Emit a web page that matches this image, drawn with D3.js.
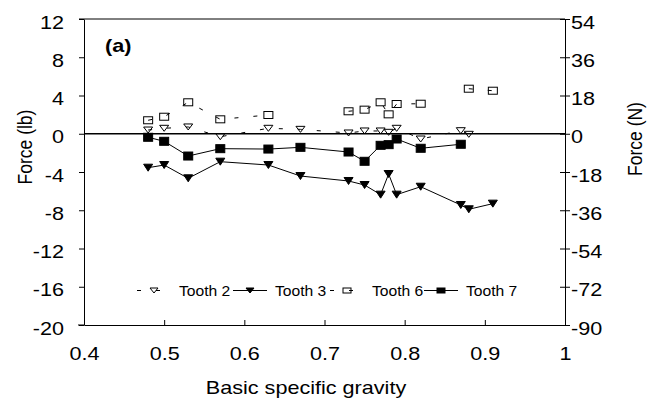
<!doctype html>
<html lang="en">
<head>
<meta charset="utf-8">
<title>Force vs basic specific gravity</title>
<style>
  body { margin: 0; background: #fff; }
  svg { font-family: "Liberation Sans", Arial, sans-serif; }
</style>
</head>
<body>
<script src="https://cdn.jsdelivr.net/npm/d3@7"></script>
<svg width="652" height="405"></svg>
<script>

// values (force in lb)
var t2x = [0.48, 0.50, 0.53, 0.57, 0.63, 0.67, 0.73, 0.75, 0.77, 0.78, 0.79, 0.82, 0.87, 0.88];
var t2y = [0.39, 0.57, 0.71, -0.31, 0.57, 0.46, 0.08, 0.29, 0.29, 0.15, 0.57, -0.55, 0.32, -0.06];

var t3x = [0.48, 0.50, 0.53, 0.57, 0.63, 0.67, 0.73, 0.75, 0.77, 0.78, 0.79, 0.82, 0.87, 0.88, 0.91];
var t3y = [-3.55, -3.27, -4.66, -2.92, -3.27, -4.42, -4.94, -5.36, -6.37, -4.21, -6.37, -5.54, -7.45, -7.90, -7.31];

// null = missing value, the line breaks there
var t6x = [0.48, 0.50, 0.53, 0.57, 0.63, 0.67, 0.73, 0.75, 0.77, 0.78, 0.79, 0.82, 0.87, 0.88, 0.91];
var t6y = [1.41, 1.78, 3.29, 1.51, 1.96, null, 2.35, 2.52, 3.29, 2.03, 3.11, 3.14, null, 4.71, 4.50];

var t7x = [0.48, 0.50, 0.53, 0.57, 0.63, 0.67, 0.73, 0.75, 0.77, 0.78, 0.79, 0.82, 0.87];
var t7y = [-0.37, -0.79, -2.33, -1.56, -1.60, -1.42, -1.91, -2.88, -1.21, -1.14, -0.55, -1.52, -1.10];

var xTicks = [0.4, 0.5, 0.6, 0.7, 0.8, 0.9, 1];
var yTicks = [-20, -16, -12, -8, -4, 0, 4, 8, 12];
var nTicks = [-90, -72, -54, -36, -18, 0, 18, 36, 54];

var seriesNames = ["Tooth 2", "Tooth 3", "Tooth 6", "Tooth 7"];

// the picture is stretched sideways, so text gets the same stretch
var SX = 1.2;

var svg = d3.select("svg"),
    pLeft = 84, pRight = 565, pTop = 19, pBottom = 325;

var x = d3.scaleLinear().domain([0.4, 1]).range([pLeft, pRight]);
var y = d3.scaleLinear().domain([-20, 12]).range([pBottom, pTop]);
var yN = d3.scaleLinear().domain([-90, 54]).range([pBottom, pTop]);

// plain hyphen for negatives, like the original
var fmt = function(d) { return String(d); };

function zip(xs, ys) {
  return xs.map(function(v, i) { return {x: v, y: ys[i]}; });
}

var series = [
  {name: seriesNames[0], data: zip(t2x, t2y), dash: "4,15", marker: "triOpen"},
  {name: seriesNames[1], data: zip(t3x, t3y), dash: null, marker: "triFill"},
  {name: seriesNames[2], data: zip(t6x, t6y), dash: "4,15", marker: "sqOpen"},
  {name: seriesNames[3], data: zip(t7x, t7y), dash: null, marker: "sqFill"}
];

// top border
svg.append("line")
  .attr("x1", pLeft - 5).attr("x2", pRight)
  .attr("y1", pTop).attr("y2", pTop)
  .attr("stroke", "#000");

// left axis
svg.append("g")
  .attr("transform", "translate(" + pLeft + ",0)")
  .call(d3.axisLeft(y).tickValues(yTicks).tickSize(5).tickSizeOuter(0).tickFormat(fmt))
  .call(function(g) {
    g.selectAll(".tick text")
      .attr("x", -20 / SX).attr("dy", "0.5em")
      .attr("transform", "scale(" + SX + ",1)")
      .style("font-size", "18px").attr("fill", "#000");
  });

// right axis (newtons)
svg.append("g")
  .attr("transform", "translate(" + pRight + ",0)")
  .call(d3.axisRight(yN).tickValues(nTicks).tickSize(5).tickSizeOuter(0).tickFormat(fmt))
  .call(function(g) {
    g.selectAll(".tick line").attr("x1", -5);
    g.selectAll(".tick text")
      .attr("x", 6 / SX).attr("dy", "0.5em")
      .attr("transform", "scale(" + SX + ",1)")
      .style("font-size", "18px").attr("fill", "#000");
  });

// bottom axis
svg.append("g")
  .attr("transform", "translate(0," + pBottom + ")")
  .call(d3.axisBottom(x).tickValues(xTicks).tickSize(-5).tickSizeOuter(0).tickFormat(fmt))
  .call(function(g) {
    g.selectAll(".tick text")
      .attr("y", 35).attr("dy", 0)
      .attr("transform", "scale(" + SX + ",1)")
      .style("font-size", "18px").attr("fill", "#000");
  });
svg.append("line")
  .attr("x1", pLeft - 6).attr("x2", pLeft)
  .attr("y1", pBottom).attr("y2", pBottom)
  .attr("stroke", "#000");

svg.selectAll(".domain").attr("stroke", "#000");
svg.selectAll(".tick line").attr("stroke", "#000");

// zero line
svg.append("line")
  .attr("x1", x(0.4)).attr("x2", x(1))
  .attr("y1", y(0)).attr("y2", y(0))
  .attr("stroke", "#000").attr("stroke-width", 1.6);

// markers
function marker(g, type, cx, cy, w, h) {
  if (type == "triOpen" || type == "triFill") {
    g.append("path")
      .attr("d", "M" + (cx - w / 2) + "," + (cy - h / 2) + "L" + (cx + w / 2) + "," + (cy - h / 2) + "L" + cx + "," + (cy + h / 2) + "Z")
      .attr("fill", type == "triFill" ? "#000" : "none")
      .attr("stroke", "#000");
  } else {
    g.append("rect")
      .attr("x", cx - w / 2).attr("y", cy - h / 2)
      .attr("width", w).attr("height", h)
      .attr("fill", type == "sqFill" ? "#000" : "none")
      .attr("stroke", "#000");
  }
}

var line = d3.line()
  .defined(function(d) { return d.y != null; })
  .x(function(d) { return x(d.x); })
  .y(function(d) { return y(d.y); });

var plot = svg.append("g");

series.forEach(function(s) {
  plot.append("path")
    .datum(s.data)
    .attr("d", line)
    .attr("fill", "none")
    .attr("stroke", "#000")
    .attr("stroke-width", 1)
    .attr("stroke-dasharray", s.dash);
});

series.forEach(function(s) {
  s.data.filter(function(d) { return d.y != null; }).forEach(function(d) {
    var w = 9, h = 7;
    if (s.marker == "sqFill") h = 8;
    if (s.marker == "triOpen") h = 6;
    marker(plot, s.marker, x(d.x), y(d.y), w, h);
  });
});

// legend
var legX = [137, 233, 330, 424], legY = 290.5;
series.forEach(function(s, i) {
  var lx = legX[i];
  svg.append("line")
    .attr("x1", lx).attr("x2", lx + 34)
    .attr("y1", legY).attr("y2", legY)
    .attr("stroke", "#000")
    .attr("stroke-dasharray", s.dash);
  marker(svg, s.marker, lx + 17, legY, 8, 5);
  svg.append("text")
    .attr("transform", "translate(" + (lx + 42) + "," + (legY + 5.3) + ") scale(1.08,1)")
    .style("font-size", "14.5px")
    .text(s.name);
});

// panel label and axis titles
svg.append("text")
  .attr("transform", "translate(105,52) scale(" + SX + ",1)")
  .style("font-size", "18px").style("font-weight", "bold")
  .text("(a)");

svg.append("text")
  .attr("transform", "translate(306,394) scale(" + SX + ",1)")
  .attr("text-anchor", "middle")
  .style("font-size", "18px")
  .text("Basic specific gravity");

svg.append("text")
  .attr("transform", "translate(25,147) scale(" + SX + ",1) rotate(-90)")
  .attr("text-anchor", "middle").attr("dy", "0.35em")
  .style("font-size", "17.5px")
  .text("Force (lb)");

svg.append("text")
  .attr("transform", "translate(635,139) scale(" + SX + ",1) rotate(-90)")
  .attr("text-anchor", "middle").attr("dy", "0.35em")
  .style("font-size", "17.5px")
  .text("Force (N)");

</script>
</body>
</html>
